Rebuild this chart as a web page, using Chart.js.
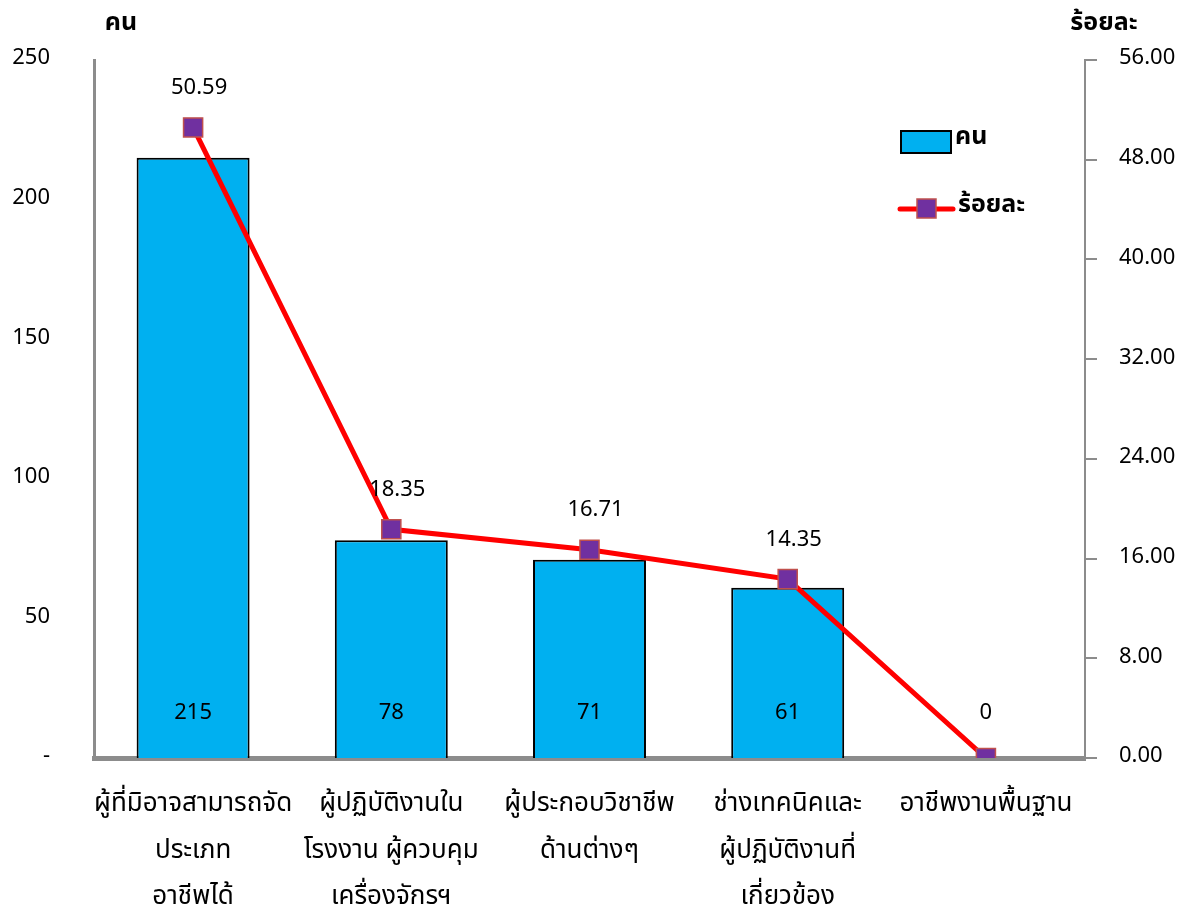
<!DOCTYPE html>
<html>
<head>
<meta charset="utf-8">
<script src="https://cdn.jsdelivr.net/npm/chart.js@4/dist/chart.umd.min.js"></script>
<style>
  body { margin: 0; background: #fff; }
  #wrap { width: 1191px; height: 913px; position: relative; }
</style>
</head>
<body>
<div id="wrap"><canvas id="chart"></canvas></div>
<script>
// categories (occupations), multi-line labels as in the picture
let categories = [
    ["ผู้ที่มิอาจสามารถจัด", "ประเภท", "อาชีพได้"],
    ["ผู้ปฏิบัติงานใน", "โรงงาน ผู้ควบคุม", "เครื่องจักรฯ"],
    ["ผู้ประกอบวิชาชีพ", "ด้านต่างๆ"],
    ["ช่างเทคนิคและ", "ผู้ปฏิบัติงานที่", "เกี่ยวข้อง"],
    ["อาชีพงานพื้นฐาน"]
]
let people = [215, 78, 71, 61, 0]
let percent = [50.59, 18.35, 16.71, 14.35, 0]
let left_ticks_max = 250
let right_ticks_max = 56

let FONT = "Tahoma, 'Noto Sans Thai', 'Leelawadee UI', Garuda, Loma, 'DejaVu Sans', sans-serif"

// draws value labels, axis titles and the legend
const extraText = {
    id: 'extraText',
    afterDatasetsDraw(chart){
        let ctx = chart.ctx
        let area = chart.chartArea
        ctx.save()
        ctx.fillStyle = '#000'
        ctx.textAlign = 'center'
        ctx.textBaseline = 'middle'
        ctx.font = '22px ' + FONT

        // dataset 0 is the line, dataset 1 the bars
        let lineMeta = chart.getDatasetMeta(0)
        let barMeta = chart.getDatasetMeta(1)

        // bar values near the base
        barMeta.data.forEach(function(bar, i){
            ctx.fillText(String(people[i]), bar.x, area.bottom - 43)
        })

        // percent values above markers (last one has no label)
        lineMeta.data.forEach(function(pt, i){
            if (percent[i] == 0) return
            ctx.fillText(percent[i].toFixed(2), pt.x + 6, pt.y - 38)
        })

        // axis titles
        ctx.font = 'bold 25px ' + FONT
        ctx.fillText('คน', 121, 25)
        ctx.fillText('ร้อยละ', 1104, 25)

        // legend
        ctx.textAlign = 'left'
        ctx.fillStyle = '#00B0F0'
        ctx.fillRect(901, 131, 50, 22)
        ctx.lineWidth = 2
        ctx.strokeStyle = '#000'
        ctx.strokeRect(901, 131, 50, 22)
        ctx.fillStyle = '#000'
        ctx.fillText('คน', 955, 139)

        ctx.strokeStyle = '#FF0000'
        ctx.lineWidth = 5
        ctx.lineCap = 'round'
        ctx.beginPath()
        ctx.moveTo(900, 209)
        ctx.lineTo(953, 209)
        ctx.stroke()
        ctx.fillStyle = '#7030A0'
        ctx.fillRect(917, 199, 19, 19)
        ctx.lineWidth = 1.5
        ctx.strokeStyle = '#C0504D'
        ctx.strokeRect(917, 199, 19, 19)
        ctx.fillStyle = '#000'
        ctx.fillText('ร้อยละ', 958, 207)
        ctx.restore()
    }
}

let ctx = document.getElementById('chart').getContext('2d')
let chart = new Chart(ctx, {
    data: {
        labels: categories,
        datasets: [{
            type: 'line',
            label: 'ร้อยละ',
            data: percent,
            yAxisID: 'y1',
            borderColor: '#FF0000',
            borderWidth: 5,
            pointStyle: 'rect',
            pointRadius: 13.5,
            pointBackgroundColor: '#7030A0',
            pointBorderColor: '#C0504D',
            pointBorderWidth: 1.5,
            tension: 0,
            order: 0
        }, {
            type: 'bar',
            label: 'คน',
            data: people,
            yAxisID: 'y',
            backgroundColor: '#00B0F0',
            borderColor: '#000',
            borderWidth: 2,
            barPercentage: 0.57,
            categoryPercentage: 1,
            order: 1
        }]
    },
    options: {
        responsive: true,
        maintainAspectRatio: false,
        animation: false,
        layout: { padding: { top: 60, left: 0, right: 0, bottom: 0 } },
        plugins: {
            legend: { display: false },
            tooltip: { enabled: false }
        },
        scales: {
            x: {
                grid: { display: false },
                border: { color: '#8c8c8c', width: 5 },
                ticks: {
                    color: '#000',
                    padding: 17,
                    maxRotation: 0,
                    autoSkip: false,
                    font: { family: FONT, size: 26, lineHeight: 1.78 }
                },
                afterFit: function(scale){ scale.height = 155 }
            },
            y: {
                position: 'left',
                min: 0,
                max: left_ticks_max,
                grid: { display: false },
                border: { color: '#8c8c8c', width: 3 },
                ticks: {
                    stepSize: 50,
                    color: '#000',
                    padding: 36,
                    font: { family: FONT, size: 22 },
                    callback: function(v){ return v == 0 ? '-' : v }
                },
                afterFit: function(scale){ scale.width = 94 }
            },
            y1: {
                position: 'right',
                min: 0,
                max: right_ticks_max,
                grid: { drawOnChartArea: false, drawTicks: true, tickLength: 12, color: '#8c8c8c', lineWidth: 2 },
                border: { color: '#8c8c8c', width: 2 },
                ticks: {
                    stepSize: 8,
                    color: '#000',
                    padding: 22,
                    font: { family: FONT, size: 22 },
                    callback: function(v){ return v.toFixed(2) }
                },
                afterFit: function(scale){ scale.width = 106 }
            }
        }
    },
    plugins: [extraText]
})
</script>
</body>
</html>
